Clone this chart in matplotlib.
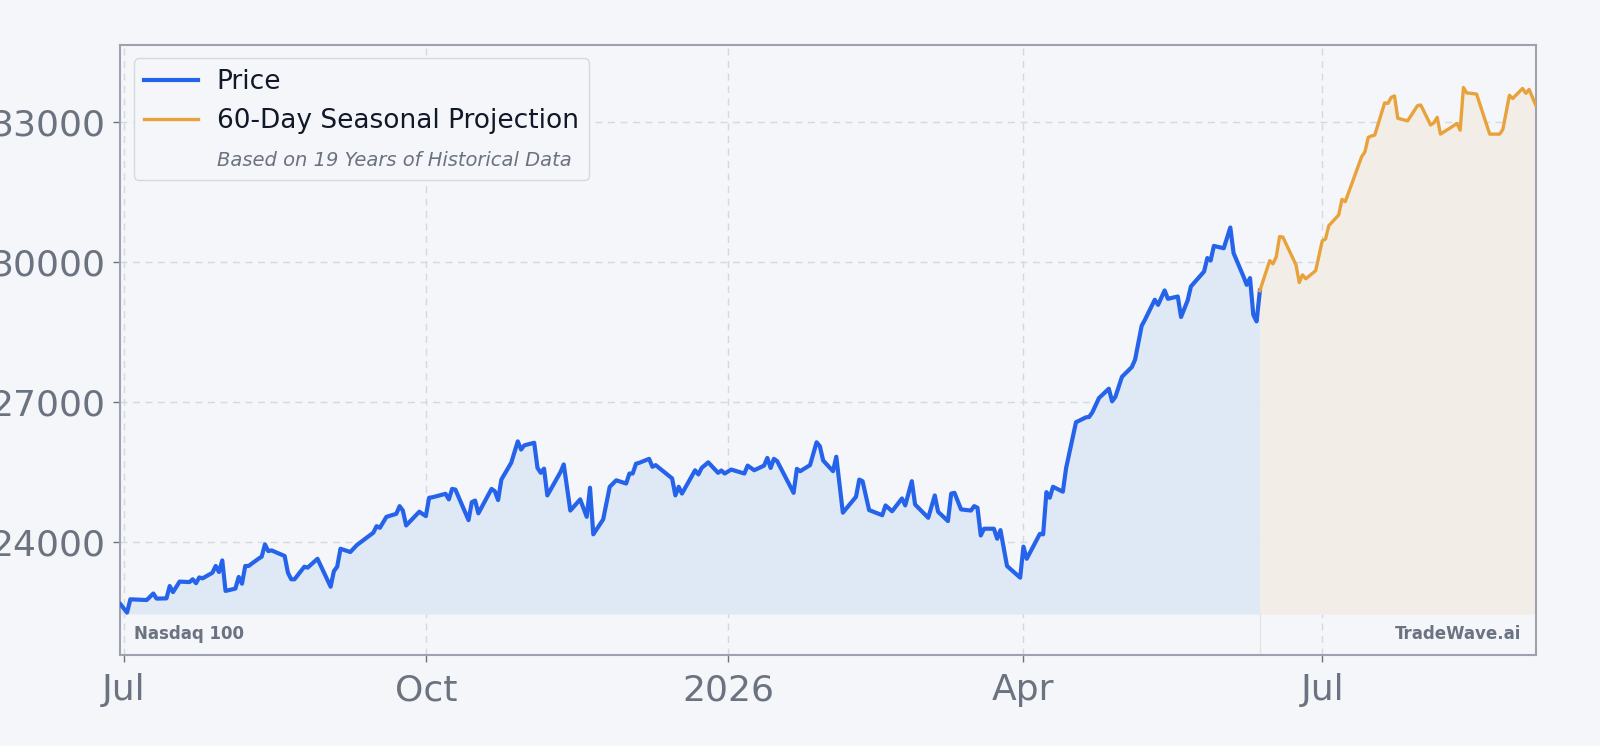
import pandas as pd
import matplotlib
matplotlib.use('Agg')
import matplotlib.pyplot as plt
import matplotlib.dates as mdates
from matplotlib.lines import Line2D
from matplotlib.ticker import FuncFormatter

# Nasdaq 100 closes
price_dates = [
    '2025-06-30', '2025-07-02', '2025-07-03', '2025-07-08', '2025-07-10', '2025-07-11', '2025-07-14',
    '2025-07-15', '2025-07-16', '2025-07-18', '2025-07-21', '2025-07-22', '2025-07-23', '2025-07-24',
    '2025-07-25', '2025-07-28', '2025-07-29', '2025-07-30', '2025-07-31', '2025-08-01', '2025-08-04',
    '2025-08-05', '2025-08-06', '2025-08-07', '2025-08-08', '2025-08-11', '2025-08-12', '2025-08-13',
    '2025-08-14', '2025-08-15', '2025-08-19', '2025-08-20', '2025-08-21', '2025-08-22', '2025-08-25',
    '2025-08-26', '2025-08-29', '2025-09-02', '2025-09-03', '2025-09-04', '2025-09-05', '2025-09-08',
    '2025-09-10', '2025-09-15', '2025-09-16', '2025-09-17', '2025-09-19', '2025-09-22', '2025-09-23',
    '2025-09-24', '2025-09-25', '2025-09-29', '2025-10-01', '2025-10-02', '2025-10-03', '2025-10-07',
    '2025-10-08', '2025-10-09', '2025-10-10', '2025-10-14', '2025-10-15', '2025-10-16', '2025-10-17',
    '2025-10-21', '2025-10-22', '2025-10-23', '2025-10-24', '2025-10-27', '2025-10-29', '2025-10-30',
    '2025-10-31', '2025-11-03', '2025-11-04', '2025-11-05', '2025-11-06', '2025-11-07', '2025-11-11',
    '2025-11-12', '2025-11-14', '2025-11-17', '2025-11-19', '2025-11-20', '2025-11-21', '2025-11-24',
    '2025-11-26', '2025-11-28', '2025-12-01', '2025-12-02', '2025-12-03', '2025-12-04', '2025-12-05',
    '2025-12-08', '2025-12-09', '2025-12-10', '2025-12-15', '2025-12-16', '2025-12-17', '2025-12-18',
    '2025-12-22', '2025-12-23', '2025-12-24', '2025-12-26', '2025-12-29', '2025-12-30', '2025-12-31',
    '2026-01-02', '2026-01-06', '2026-01-07', '2026-01-09', '2026-01-12', '2026-01-13', '2026-01-14',
    '2026-01-15', '2026-01-16', '2026-01-21', '2026-01-22', '2026-01-23', '2026-01-26', '2026-01-28',
    '2026-01-29', '2026-01-30', '2026-02-02', '2026-02-03', '2026-02-05', '2026-02-09', '2026-02-10',
    '2026-02-11', '2026-02-13', '2026-02-17', '2026-02-18', '2026-02-20', '2026-02-23', '2026-02-24',
    '2026-02-26', '2026-02-27', '2026-03-03', '2026-03-05', '2026-03-06', '2026-03-09', '2026-03-10',
    '2026-03-11', '2026-03-13', '2026-03-16', '2026-03-17', '2026-03-18', '2026-03-19', '2026-03-20',
    '2026-03-23', '2026-03-24', '2026-03-25', '2026-03-27', '2026-03-31', '2026-04-01', '2026-04-02',
    '2026-04-06', '2026-04-07', '2026-04-08', '2026-04-09', '2026-04-10', '2026-04-13', '2026-04-14',
    '2026-04-17', '2026-04-20', '2026-04-21', '2026-04-22', '2026-04-24', '2026-04-27', '2026-04-28',
    '2026-04-29', '2026-05-01', '2026-05-04', '2026-05-05', '2026-05-07', '2026-05-08', '2026-05-11',
    '2026-05-12', '2026-05-14', '2026-05-15', '2026-05-18', '2026-05-19', '2026-05-21', '2026-05-22',
    '2026-05-26', '2026-05-27', '2026-05-28', '2026-05-29', '2026-06-01', '2026-06-03', '2026-06-04',
    '2026-06-07', '2026-06-08', '2026-06-09', '2026-06-10', '2026-06-11', '2026-06-12',
]
price_vals = [
    22660, 22480, 22765, 22750, 22890, 22780, 22785,
    23050, 22920, 23145, 23135, 23195, 23110, 23235,
    23215, 23335, 23480, 23350, 23600, 22945, 22995,
    23245, 23100, 23480, 23480, 23635, 23680, 23945,
    23800, 23815, 23695, 23335, 23195, 23195, 23465,
    23445, 23635, 23035, 23370, 23465, 23850, 23780,
    23930, 24195, 24335, 24300, 24535, 24600, 24765,
    24670, 24350, 24645, 24550, 24945, 24955, 25030,
    24910, 25135, 25120, 24465, 24850, 24885, 24610,
    25135, 25085, 24895, 25335, 25695, 26155, 25980,
    26070, 26125, 25585, 25480, 25570, 24995, 25495,
    25660, 24670, 24910, 24535, 25160, 24160, 24480,
    25180, 25320, 25250, 25465, 25465, 25675, 25695,
    25780, 25610, 25645, 25360, 24995, 25180, 25035,
    25535, 25445, 25585, 25705, 25480, 25530, 25465,
    25550, 25465, 25635, 25535, 25635, 25800, 25585,
    25780, 25730, 25050, 25565, 25515, 25645, 26135,
    26050, 25745, 25515, 25825, 24625, 24965, 25335,
    25300, 24680, 24570, 24780, 24655, 24930, 24780,
    25300, 24800, 24515, 24995, 24645, 24445, 25035,
    25050, 24695, 24670, 24765, 24730, 24135, 24280,
    24280, 24065, 24250, 23480, 23230, 23895, 23635,
    24170, 24160, 25065, 24945, 25180, 25075, 25585,
    26565, 26670, 26680, 26780, 27085, 27285, 27015,
    27110, 27540, 27750, 27910, 28635, 28765, 29195,
    29085, 29395, 29215, 29265, 28825, 29180, 29480,
    29800, 30090, 30035, 30350, 30300, 30745, 30195,
    29695, 29515, 29660, 28875, 28730, 29390,
]

# 60-day seasonal projection
proj_dates = [
    '2026-06-12', '2026-06-15', '2026-06-16', '2026-06-17', '2026-06-18', '2026-06-19', '2026-06-23',
    '2026-06-24', '2026-06-25', '2026-06-26', '2026-06-29', '2026-07-01', '2026-07-02', '2026-07-03',
    '2026-07-06', '2026-07-07', '2026-07-08', '2026-07-13', '2026-07-14', '2026-07-15', '2026-07-16',
    '2026-07-17', '2026-07-20', '2026-07-21', '2026-07-22', '2026-07-23', '2026-07-24', '2026-07-27',
    '2026-07-30', '2026-07-31', '2026-08-03', '2026-08-04', '2026-08-05', '2026-08-06', '2026-08-10',
    '2026-08-11', '2026-08-12', '2026-08-13', '2026-08-14', '2026-08-17', '2026-08-21', '2026-08-24',
    '2026-08-25', '2026-08-27', '2026-08-28', '2026-08-31', '2026-09-01', '2026-09-02', '2026-09-04',
]
proj_vals = [
    29390, 30035, 29965, 30120, 30550, 30540, 29945,
    29565, 29730, 29645, 29820, 30460, 30500, 30785,
    31015, 31350, 31300, 32265, 32370, 32680, 32710,
    32730, 33420, 33410, 33540, 33570, 33090, 33035,
    33360, 33375, 32945, 32995, 33110, 32750, 32930,
    32980, 32835, 33750, 33635, 33610, 32750, 32750,
    32850, 33585, 33515, 33730, 33625, 33710, 33375,
]

yticks = [24000, 27000, 30000, 33000]

BG = '#f4f6f9'
BLUE = '#2563eb'
ORANGE = '#e9a23b'
GREY = '#6b7280'
BASE = 22450

px = pd.to_datetime(price_dates)
pj = pd.to_datetime(proj_dates)

fig = plt.figure(figsize=(16, 7.46), dpi=100, facecolor=BG)
ax = fig.add_axes([0.0753, 0.122, 0.8845, 0.8175])
ax.set_facecolor(BG)

ax.fill_between(px, price_vals, BASE, color='#dfe9f6', lw=0, zorder=1)
ax.fill_between(pj, proj_vals, BASE, color='#f2ede6', lw=0, zorder=1)
ax.axvline(px[-1], ymax=(BASE - 21570) / (34660 - 21570), color='#e3e3e3', lw=1, zorder=1)
ax.plot(px, price_vals, color=BLUE, lw=3.0, zorder=3)
ax.plot(pj, proj_vals, color=ORANGE, lw=2.4, zorder=3)

ax.set_xlim(px[0], pj[-1])
ax.set_ylim(21570, 34660)
ax.set_yticks(yticks)
ax.yaxis.set_major_formatter(FuncFormatter(lambda v, p: '%d' % v))

ax.xaxis.set_major_locator(mdates.MonthLocator(bymonth=[1, 4, 7, 10]))
ax.xaxis.set_major_formatter(FuncFormatter(
    lambda v, p: str(mdates.num2date(v).year) if mdates.num2date(v).month == 1
    else mdates.num2date(v).strftime('%b')))

ax.tick_params(labelsize=26, colors=GREY, length=5, width=1, pad=6)
ax.tick_params(axis='x', pad=8)
for s in ax.spines.values():
    s.set_color('#9ca3af')
    s.set_linewidth(1.5)
ax.grid(True, color='#d5d9df', ls=(0, (5, 4)), lw=1.0, zorder=0)
ax.set_axisbelow(True)

# legend
handles = [Line2D([], [], color=BLUE, lw=3.0),
           Line2D([], [], color=ORANGE, lw=2.4),
           Line2D([], [], color='none')]
labels = ['Price', '60-Day Seasonal Projection', 'Based on 19 Years of Historical Data']
leg = ax.legend(handles, labels, loc='upper left', fontsize=19, frameon=True,
                facecolor=BG, edgecolor='#d5d9df', framealpha=1.0,
                borderpad=0.4, handlelength=2.05, handletextpad=0.7, labelspacing=0.5)
leg.get_frame().set_linewidth(1.0)
t = leg.get_texts()[2]
t.set_fontstyle('italic')
t.set_fontsize(14)
t.set_color(GREY)
for t in leg.get_texts()[:2]:
    t.set_color('#111827')

ax.text(0.0096, 0.035, 'Nasdaq 100', transform=ax.transAxes, fontsize=12,
        fontweight='bold', color=GREY, va='center', ha='left')
ax.text(0.9895, 0.035, 'TradeWave.ai', transform=ax.transAxes, fontsize=12,
        fontweight='bold', color=GREY, va='center', ha='right')

plt.savefig('out.png', dpi=100, facecolor=BG)
